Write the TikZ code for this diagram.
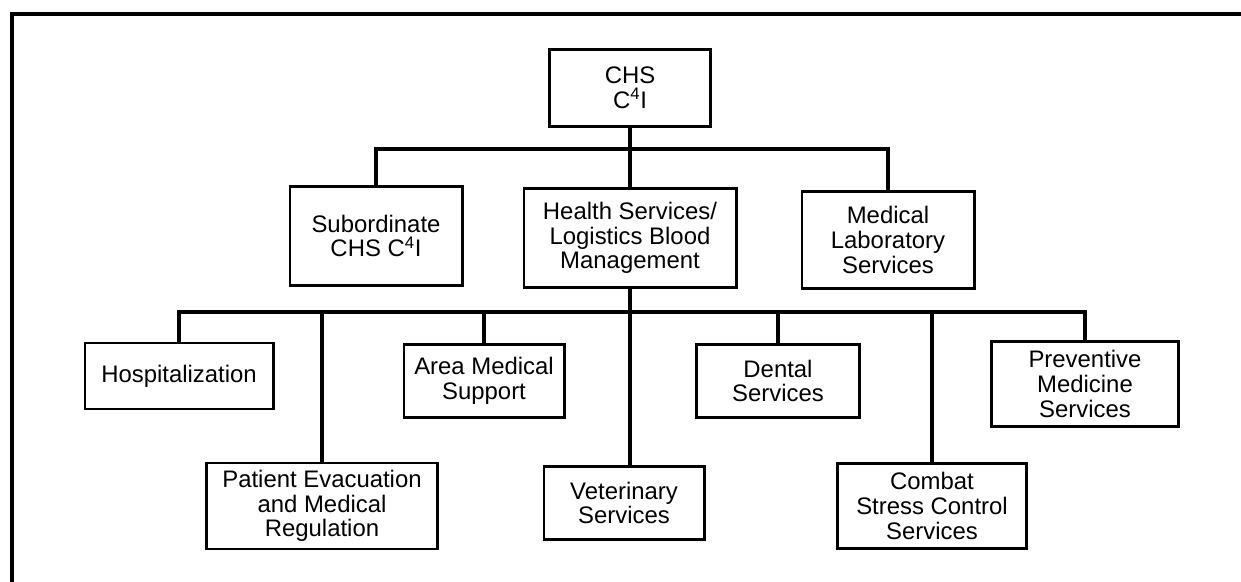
\documentclass[tikz,border=0pt]{standalone}
\usepackage{fontspec}
\setmainfont{Liberation Sans}

\begin{document}
\begin{tikzpicture}[
	x=0.025cm, y=-0.025cm,
	every node/.style={font=\fontsize{17}{17.5}\selectfont},
	box/.style={draw, line width=2.1pt, align=center, inner sep=2pt},
	link/.style={line width=2.3pt},
	bus/.style={line width=3pt, line cap=rect},
	frame/.style={line width=3.2pt}
	]
	\useasboundingbox (0,0) rectangle (1241,582);
	\draw[frame] (12,582) -- (12,14) -- (1241,14);
	
	\node[box, minimum width=4.03cm, minimum height=1.93cm] (chs) at (630,88) {CHS\\ C\textsuperscript{4}I};
	
	\node[box, minimum width=4.3cm, minimum height=2.48cm] (sub) at (376,236) {Subordinate\\ CHS C\textsuperscript{4}I};
	\node[box, minimum width=5.3cm, minimum height=2.48cm] (hs) at (630,238) {Health Services/\\ Logistics Blood\\ Management};
	\node[box, minimum width=4.3cm, minimum height=2.43cm] (lab) at (888,240) {Medical\\ Laboratory\\ Services};
	
	\node[box, minimum width=4.7cm, minimum height=1.65cm] (hosp) at (179,376) {Hospitalization};
	\node[box, minimum width=4.0cm, minimum height=1.83cm] (area) at (484,381) {Area Medical\\ Support};
	\node[box, minimum width=4.08cm, minimum height=1.83cm] (dental) at (778,381) {Dental\\ Services};
	\node[box, minimum width=4.68cm, minimum height=2.13cm] (prev) at (1085,384) {Preventive\\ Medicine\\ Services};
	
	\node[box, minimum width=5.78cm, minimum height=2.15cm] (pat) at (322,506) {Patient Evacuation\\ and Medical\\ Regulation};
	\node[box, minimum width=4.0cm, minimum height=1.83cm] (vet) at (624,503) {Veterinary\\ Services};
	\node[box, minimum width=4.73cm, minimum height=2.13cm] (combat) at (932,506) {Combat\\ Stress Control\\ Services};
	
	\coordinate (top) at (630,149);
	\coordinate (mid) at (630,312);
	
	\draw[link] (chs.south) -- (chs.south |- top);
	\draw[bus] (sub.north |- top) -- (lab.north |- top);
	\foreach \n in {sub,hs,lab}
		\draw[link] (\n.north) -- (\n.north |- top);
	
	\draw[link] (hs.south) -- (hs.south |- vet.north);
	\draw[bus] (hosp.north |- mid) -- (prev.north |- mid);
	\foreach \n in {hosp,pat,area,dental,combat,prev}
		\draw[link] (\n.north) -- (\n.north |- mid);
	
\end{tikzpicture}
\end{document}
